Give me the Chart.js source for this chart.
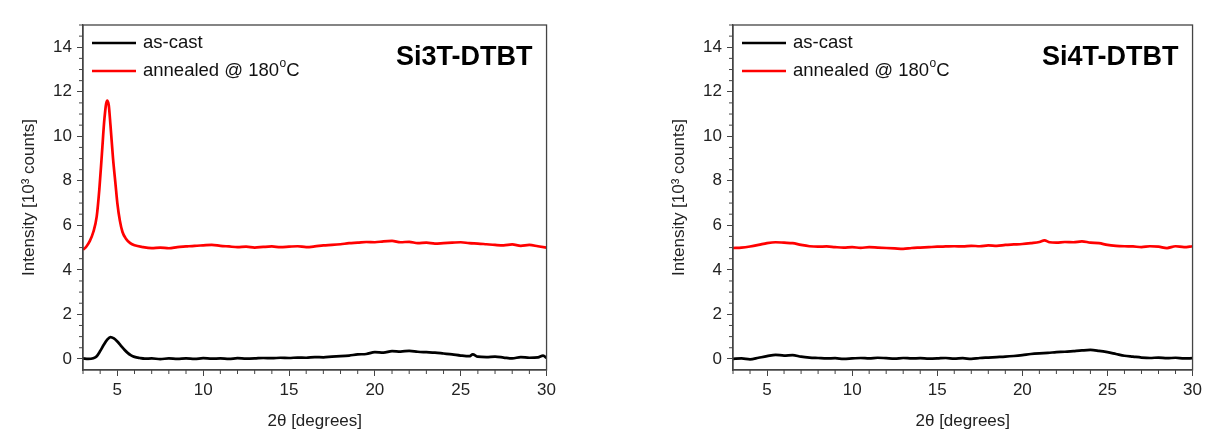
<!DOCTYPE html>
<html>
<head>
<meta charset="utf-8">
<script src="https://cdn.jsdelivr.net/npm/chart.js@4.4.0/dist/chart.umd.min.js"></script>
<style>
  body { margin: 0; background: #fff; }
  .panel { position: absolute; top: 0; height: 438px; }
  #left { left: 0; width: 560px; }
  #right { left: 650px; width: 556px; }
</style>
</head>
<body>
<div class="panel" id="left"><canvas id="c1"></canvas></div>
<div class="panel" id="right"><canvas id="c2"></canvas></div>
<script>
// [2theta, intensity (10^3 counts)]
const si3Cast = [[3.0,0.02],[3.3,0.0],[3.6,0.03],[3.8,0.12],[4.0,0.35],[4.2,0.62],[4.4,0.85],[4.6,0.98],[4.8,0.92],[5.0,0.78],[5.2,0.6],[5.4,0.42],[5.6,0.27],[5.8,0.16],[6.0,0.09],[6.3,0.04],[6.6,0.01],[7.0,0.02],[7.5,-0.01],[8,0.02],[8.5,0.0],[9,0.02],[9.5,0.0],[10,0.03],[10.5,0.01],[11,0.02],[11.5,0.0],[12,0.03],[12.5,0.01],[13,0.02],[13.5,0.04],[14,0.03],[14.5,0.05],[15,0.04],[15.5,0.06],[16,0.05],[16.5,0.08],[17,0.07],[17.5,0.1],[18,0.12],[18.5,0.15],[19,0.2],[19.5,0.22],[20,0.3],[20.5,0.28],[21,0.35],[21.5,0.33],[22,0.36],[22.5,0.32],[23,0.3],[23.5,0.28],[24,0.24],[24.5,0.2],[25,0.15],[25.5,0.12],[25.7,0.2],[26,0.1],[26.5,0.08],[27,0.1],[27.5,0.06],[28,0.02],[28.5,0.08],[29,0.05],[29.5,0.07],[29.8,0.15],[30,0.04]];
const si3Anneal = [[3.0,4.9],[3.2,5.05],[3.4,5.3],[3.6,5.7],[3.8,6.4],[3.95,7.6],[4.1,9.2],[4.25,10.8],[4.4,11.6],[4.5,11.4],[4.6,10.5],[4.75,9.0],[4.9,7.8],[5.0,7.0],[5.15,6.2],[5.3,5.7],[5.5,5.4],[5.75,5.2],[6.0,5.1],[6.5,5.02],[7,4.98],[7.5,5.0],[8,4.97],[8.5,5.02],[9,5.05],[9.5,5.08],[10,5.1],[10.5,5.12],[11,5.08],[11.5,5.05],[12,5.02],[12.5,5.04],[13,5.0],[13.5,5.03],[14,5.05],[14.5,5.02],[15,5.04],[15.5,5.06],[16,5.02],[16.5,5.05],[17,5.1],[17.5,5.12],[18,5.15],[18.5,5.2],[19,5.22],[19.5,5.25],[20,5.24],[20.5,5.28],[21,5.3],[21.5,5.24],[22,5.26],[22.5,5.2],[23,5.22],[23.5,5.18],[24,5.2],[24.5,5.22],[25,5.24],[25.5,5.2],[26,5.18],[26.5,5.15],[27,5.12],[27.5,5.1],[28,5.14],[28.5,5.08],[29,5.12],[29.5,5.06],[30,5.0]];
const si4Cast = [[3,0.0],[3.5,0.02],[4,-0.02],[4.5,0.05],[5,0.12],[5.5,0.18],[6,0.15],[6.5,0.17],[7,0.1],[7.5,0.06],[8,0.04],[8.5,0.02],[9,0.03],[9.5,0.0],[10,0.02],[10.5,0.04],[11,0.02],[11.5,0.05],[12,0.03],[12.5,0.01],[13,0.04],[13.5,0.02],[14,0.03],[14.5,0.01],[15,0.02],[15.5,0.04],[16,0.01],[16.5,0.03],[17,0.0],[17.5,0.04],[18,0.06],[18.5,0.08],[19,0.1],[19.5,0.13],[20,0.17],[20.5,0.22],[21,0.25],[21.5,0.27],[22,0.3],[22.5,0.32],[23,0.35],[23.5,0.38],[24,0.4],[24.5,0.36],[25,0.3],[25.5,0.22],[26,0.14],[26.5,0.1],[27,0.06],[27.5,0.04],[28,0.06],[28.5,0.03],[29,0.05],[29.5,0.02],[30,0.03]];
const si4Anneal = [[3,4.98],[3.5,5.0],[4,5.05],[4.5,5.12],[5,5.2],[5.5,5.24],[6,5.22],[6.5,5.2],[7,5.12],[7.5,5.06],[8,5.04],[8.5,5.05],[9,5.02],[9.5,5.0],[10,5.02],[10.5,4.99],[11,5.02],[11.5,5.0],[12,4.98],[12.5,4.96],[13,4.94],[13.5,4.98],[14,5.0],[14.5,5.02],[15,5.04],[15.5,5.05],[16,5.06],[16.5,5.05],[17,5.08],[17.5,5.06],[18,5.1],[18.5,5.08],[19,5.12],[19.5,5.14],[20,5.16],[20.5,5.2],[21,5.25],[21.3,5.32],[21.6,5.24],[22,5.22],[22.5,5.25],[23,5.24],[23.5,5.28],[24,5.22],[24.5,5.2],[25,5.12],[25.5,5.08],[26,5.06],[26.5,5.05],[27,5.02],[27.5,5.06],[28,5.04],[28.5,4.98],[29,5.06],[29.5,5.02],[30,5.06]];

const seriesNames = ['as-cast', 'annealed @ 180'];
const seriesColors = ['#000000', '#ff0000'];
const xTicks = [5, 10, 15, 20, 25, 30];
const yTicks = [0, 2, 4, 6, 8, 10, 12, 14];

const FONT = '"Liberation Sans", Arial, sans-serif';
const AXIS = '#444';

const frame = {
  id: 'frame',
  afterDraw(chart, args, opts) {
    const ctx = chart.ctx, a = chart.chartArea;
    const x = chart.scales.x, y = chart.scales.y;
    ctx.save();
    ctx.strokeStyle = AXIS;
    ctx.lineWidth = 1.3;
    ctx.strokeRect(a.left, a.top, a.right - a.left, a.bottom - a.top);
    // minor ticks
    ctx.lineWidth = 1;
    ctx.beginPath();
    for (let v = 3; v <= 30; v++) {
      if (v % 5 === 0) continue;
      const px = x.getPixelForValue(v);
      ctx.moveTo(px, a.bottom); ctx.lineTo(px, a.bottom + 4);
    }
    for (let v = 0.5; v <= 15; v += 0.5) {
      if (v % 2 === 0) continue;
      const py = y.getPixelForValue(v);
      ctx.moveTo(a.left, py); ctx.lineTo(a.left - 4, py);
    }
    ctx.stroke();

    // legend
    ctx.lineWidth = 2.6;
    ctx.textBaseline = 'middle';
    ctx.fillStyle = '#111';
    seriesNames.forEach((name, i) => {
      const ly = a.top + 18 + i * 28;
      ctx.strokeStyle = seriesColors[i];
      ctx.beginPath();
      ctx.moveTo(a.left + 9, ly); ctx.lineTo(a.left + 53, ly);
      ctx.stroke();
      ctx.font = '18.5px ' + FONT;
      ctx.fillText(name, a.left + 60, ly);
      if (i === 1) {
        let tx = a.left + 60 + ctx.measureText(name).width;
        ctx.font = '12px ' + FONT;
        ctx.fillText('o', tx + 0.5, ly - 7);
        tx += ctx.measureText('o').width + 0.5;
        ctx.font = '18.5px ' + FONT;
        ctx.fillText('C', tx, ly);
      }
    });

    // panel title
    ctx.font = 'bold 27px ' + FONT;
    ctx.textAlign = 'right';
    ctx.textBaseline = 'alphabetic';
    ctx.fillStyle = '#000';
    ctx.fillText(opts.title, a.right - 14, a.top + 40);
    ctx.restore();
  }
};

function makeChart(id, title, cast, anneal, rightPad) {
  const toPts = arr => arr.map(p => ({ x: p[0], y: p[1] }));
  return new Chart(document.getElementById(id), {
    type: 'scatter',
    data: {
      datasets: [
        { label: seriesNames[0], data: toPts(cast), borderColor: seriesColors[0] },
        { label: seriesNames[1], data: toPts(anneal), borderColor: seriesColors[1] }
      ]
    },
    options: {
      responsive: true,
      maintainAspectRatio: false,
      animation: false,
      showLine: true,
      layout: { padding: { top: 25, right: rightPad, left: 0, bottom: 0 } },
      elements: {
        point: { radius: 0 },
        line: { borderWidth: 2.7, cubicInterpolationMode: 'monotone' }
      },
      plugins: {
        legend: { display: false },
        tooltip: { enabled: false },
        frame: { title: title }
      },
      scales: {
        x: {
          type: 'linear', min: 3, max: 30,
          afterBuildTicks: s => { s.ticks = xTicks.map(v => ({ value: v })); },
          afterFit: s => { s.height = 68; },
          grid: { drawOnChartArea: false, tickLength: 6, tickColor: AXIS },
          border: { color: AXIS, width: 1.3 },
          ticks: { color: '#222', padding: 4, font: { family: FONT, size: 17 } },
          title: { display: true, text: '2θ [degrees]', color: '#222', padding: { bottom: 6 }, font: { family: FONT, size: 17 } }
        },
        y: {
          type: 'linear', min: -0.5, max: 15,
          afterBuildTicks: s => { s.ticks = yTicks.map(v => ({ value: v })); },
          afterFit: s => { s.width = 83; },
          grid: { drawOnChartArea: false, tickLength: 6, tickColor: AXIS },
          border: { color: AXIS, width: 1.3 },
          ticks: { color: '#222', padding: 5, font: { family: FONT, size: 17 } },
          title: { display: true, text: 'Intensity [10³ counts]', color: '#222', padding: { top: 19 }, font: { family: FONT, size: 17 } }
        }
      }
    },
    plugins: [frame]
  });
}

makeChart('c1', 'Si3T-DTBT', si3Cast, si3Anneal, 13);
makeChart('c2', 'Si4T-DTBT', si4Cast, si4Anneal, 11);
</script>
</body>
</html>
